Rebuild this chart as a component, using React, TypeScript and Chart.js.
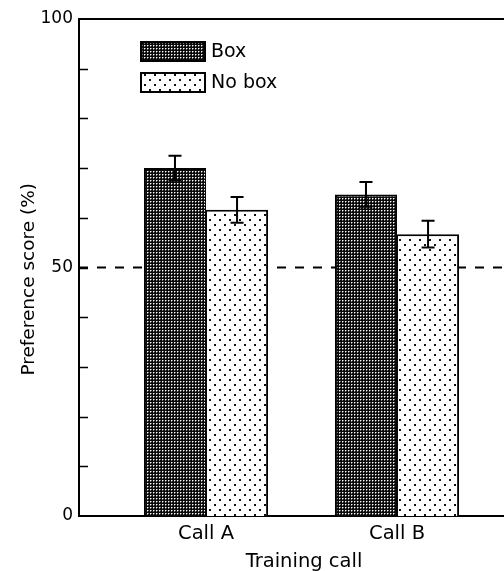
import React, { useEffect, useRef } from 'react';
import { Chart, registerables } from 'chart.js';

Chart.register(...registerables);

// ---- data ----
const categories = ['Call A', 'Call B'];
const seriesLabels = ['Box', 'No box'];
const boxValues = [70.0, 64.7];
const boxErrors = [2.5, 2.5];
const noBoxValues = [61.6, 56.7];
const noBoxErrors = [2.6, 2.7];
const referenceLevel = 50;
const yLabelledTicks = [0, 50, 100];
const xTitle = 'Training call';
const yTitle = 'Preference score (%)';

const FONT = 'DejaVu Sans';
const X_MIN = 0.335;
const X_MAX = 2.691;

function makePattern(kind: 'dark' | 'dots'): CanvasPattern | string {
  const c = document.createElement('canvas');
  const ctx = c.getContext('2d');
  if (!ctx) return kind === 'dark' ? '#333' : '#eee';
  if (kind === 'dark') {
    c.width = 3;
    c.height = 3;
    ctx.fillStyle = '#0a0a0a';
    ctx.fillRect(0, 0, 3, 3);
    ctx.fillStyle = '#ffffff';
    ctx.fillRect(1, 1, 1, 1);
    ctx.fillStyle = '#7a7a7a';
    ctx.fillRect(2, 1, 1, 1);
    ctx.fillRect(1, 2, 1, 1);
  } else {
    c.width = 10;
    c.height = 10;
    ctx.fillStyle = '#ffffff';
    ctx.fillRect(0, 0, 10, 10);
    ctx.fillStyle = '#111111';
    ctx.fillRect(1, 1, 2, 2);
    ctx.fillRect(6, 6, 2, 2);
  }
  return ctx.createPattern(c, 'repeat') || '#888';
}

const errorBarPlugin = {
  id: 'errorBars',
  afterDatasetsDraw(chart: any) {
    const yScale = chart.scales.y;
    const ctx = chart.ctx as CanvasRenderingContext2D;
    const valueSets = [boxValues, noBoxValues];
    const errorSets = [boxErrors, noBoxErrors];
    ctx.save();
    ctx.strokeStyle = '#000';
    ctx.lineWidth = 2;
    valueSets.forEach((vals, di) => {
      const meta = chart.getDatasetMeta(di);
      meta.data.forEach((bar: any, j: number) => {
        const top = yScale.getPixelForValue(vals[j] + errorSets[di][j]);
        const bot = yScale.getPixelForValue(vals[j] - errorSets[di][j]);
        const x = bar.x;
        const cap = 6.5;
        ctx.beginPath();
        ctx.moveTo(x, top);
        ctx.lineTo(x, bot);
        ctx.moveTo(x - cap, top);
        ctx.lineTo(x + cap, top);
        ctx.moveTo(x - cap, bot);
        ctx.lineTo(x + cap, bot);
        ctx.stroke();
      });
    });
    ctx.restore();
  },
};

const innerTicksPlugin = {
  id: 'innerTicks',
  afterDraw(chart: any) {
    const yScale = chart.scales.y;
    const { ctx, chartArea } = chart;
    ctx.save();
    ctx.strokeStyle = '#000';
    ctx.lineWidth = 1.5;
    yScale.ticks.forEach((t: any) => {
      if (t.value <= yScale.min || t.value >= yScale.max) return;
      const y = Math.round(yScale.getPixelForValue(t.value)) + 0.5;
      ctx.beginPath();
      ctx.moveTo(chartArea.left, y);
      ctx.lineTo(chartArea.left + 9, y);
      ctx.stroke();
    });
    ctx.restore();
  },
};

const insetLegendPlugin = {
  id: 'insetLegend',
  afterDraw(chart: any) {
    const { ctx, chartArea } = chart;
    const bars = chart.data.datasets.filter((d: any) => d.type === 'bar');
    bars.forEach((ds: any, i: number) => {
      const x = chartArea.left + 62;
      const y = chartArea.top + 23 + i * 31;
      const w = 64;
      const h = 19;
      ctx.save();
      ctx.fillStyle = ds.backgroundColor;
      ctx.fillRect(x, y, w, h);
      ctx.lineWidth = 2;
      ctx.strokeStyle = '#000';
      ctx.strokeRect(x, y, w, h);
      ctx.fillStyle = '#000';
      ctx.font = `19px "${FONT}"`;
      ctx.textBaseline = 'middle';
      ctx.textAlign = 'left';
      ctx.fillText(ds.label, x + w + 6, y + h / 2 + 1);
      ctx.restore();
    });
  },
};

export default function App() {
  const canvasRef = useRef<HTMLCanvasElement | null>(null);

  useEffect(() => {
    const canvas = canvasRef.current;
    if (!canvas) return;
    const dark = makePattern('dark');
    const dots = makePattern('dots');

    const chart = new Chart(canvas, {
      type: 'bar',
      data: {
        datasets: [
          {
            type: 'bar',
            label: seriesLabels[0],
            data: categories.map((_, i) => ({ x: i + 1, y: boxValues[i] })),
            backgroundColor: dark as any,
            borderColor: '#000',
            borderWidth: { top: 2, left: 2, right: 1, bottom: 0 },
            borderSkipped: false,
            categoryPercentage: 0.65,
            barPercentage: 1,
            order: 1,
          } as any,
          {
            type: 'bar',
            label: seriesLabels[1],
            data: categories.map((_, i) => ({ x: i + 1, y: noBoxValues[i] })),
            backgroundColor: dots as any,
            borderColor: '#000',
            borderWidth: { top: 2, left: 1, right: 2, bottom: 0 },
            borderSkipped: false,
            categoryPercentage: 0.65,
            barPercentage: 1,
            order: 1,
          } as any,
          {
            type: 'line',
            label: '',
            data: [
              { x: X_MIN, y: referenceLevel },
              { x: X_MAX, y: referenceLevel },
            ],
            borderColor: '#000',
            borderWidth: 2,
            borderDash: [9, 9],
            pointRadius: 0,
            fill: false,
            order: 5,
          } as any,
        ],
      },
      options: {
        animation: false,
        responsive: false,
        maintainAspectRatio: false,
        layout: { padding: { top: 11, right: 0, bottom: 0, left: 0 } },
        plugins: {
          legend: { display: false },
          tooltip: { enabled: false },
        },
        scales: {
          x: {
            type: 'linear',
            position: 'bottom',
            min: X_MIN,
            max: X_MAX,
            offset: false,
            grid: { display: false, drawTicks: false },
            border: { display: true, color: '#000', width: 2 },
            ticks: {
              padding: 6,
              color: '#000',
              autoSkip: false,
              maxRotation: 0,
              font: { family: FONT, size: 19.5 },
              callback: (v: any) => categories[Math.round(Number(v)) - 1] ?? '',
            },
            afterBuildTicks: (s: any) => {
              s.ticks = categories.map((_, i) => ({ value: i + 1 }));
            },
            afterFit: (s: any) => {
              s.height = 55;
            },
            title: {
              display: true,
              text: xTitle,
              color: '#000',
              font: { family: FONT, size: 19.5, lineHeight: 0.9 },
              padding: 0,
            },
          } as any,
          xTop: {
            type: 'linear',
            position: 'top',
            min: X_MIN,
            max: X_MAX,
            offset: false,
            grid: { display: false, drawTicks: false },
            ticks: { display: false },
            border: { display: true, color: '#000', width: 2 },
            afterFit: (s: any) => {
              s.height = 0;
            },
          } as any,
          y: {
            type: 'linear',
            position: 'left',
            min: 0,
            max: 100,
            grid: { display: false, drawTicks: false },
            border: { display: true, color: '#000', width: 2 },
            ticks: {
              stepSize: 10,
              padding: 6,
              color: '#000',
              font: { family: FONT, size: 17, lineHeight: 0.5 },
              callback: (v: any) => (yLabelledTicks.includes(Number(v)) ? String(v) : ''),
            },
            afterFit: (s: any) => {
              s.width = 71;
            },
            title: {
              display: true,
              text: yTitle + '    ',
              color: '#000',
              font: { family: FONT, size: 18.5 },
              padding: { top: 10, bottom: 0 },
            },
          } as any,
        },
      },
      plugins: [errorBarPlugin, innerTicksPlugin, insetLegendPlugin],
    });

    return () => {
      chart.destroy();
    };
  }, []);

  return (
    <div
      style={{
        position: 'absolute',
        left: 8,
        top: 8,
        width: 496,
        height: 563,
        overflow: 'hidden',
      }}
    >
      <canvas ref={canvasRef} width={521} height={563} style={{ display: 'block' }} />
    </div>
  );
}
